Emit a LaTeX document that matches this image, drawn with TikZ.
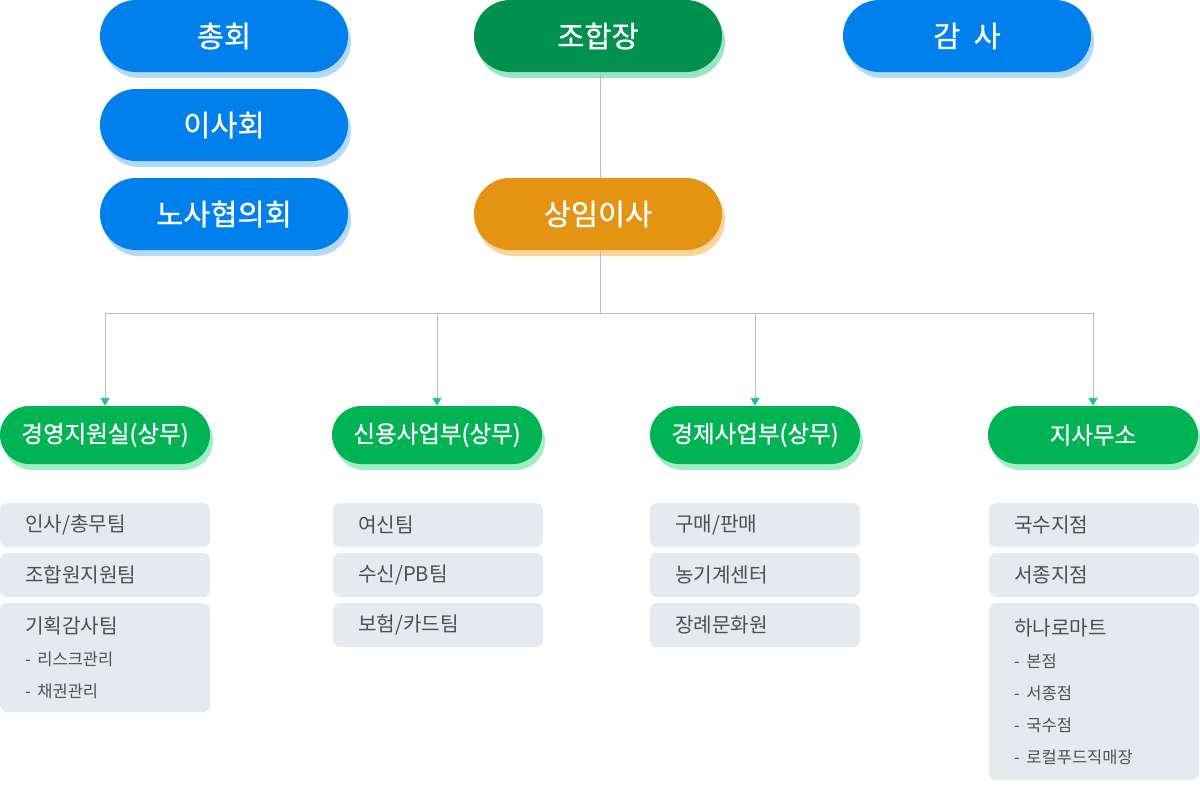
\documentclass[tikz,border=0pt]{standalone}
\usepackage{fontspec}
\setmainfont{Noto Sans CJK KR}
\newfontfamily\pillfont[FakeBold=0.8]{Noto Sans CJK KR}
\usetikzlibrary{arrows.meta,shadows}

\definecolor{boardblue}{HTML}{0080ED}
\definecolor{boardblueshadow}{HTML}{B3DAFB}
\definecolor{chiefgreen}{HTML}{00914F}
\definecolor{chiefgreenshadow}{HTML}{96E6BF}
\definecolor{execorange}{HTML}{E59312}
\definecolor{execorangeshadow}{HTML}{FBD59C}
\definecolor{deptgreen}{HTML}{00B355}
\definecolor{deptgreenshadow}{HTML}{A2EEC3}
\definecolor{teamgrey}{HTML}{E6EAEE}
\definecolor{teamtext}{HTML}{4F4F4F}
\definecolor{linkgrey}{HTML}{BBBBBB}
\definecolor{tipteal}{HTML}{1CC0A0}

\tikzset{
  bigpill/.style={rectangle, rounded corners=36pt, minimum width=248pt,
    minimum height=72pt, inner sep=0pt, text=white,
    font=\pillfont\fontsize{29.5}{30}\selectfont},
  boardpill/.style={bigpill, fill=boardblue,
    drop shadow={shadow xshift=3pt, shadow yshift=-6pt, fill=boardblueshadow, opacity=1}},
  chiefpill/.style={bigpill, fill=chiefgreen,
    drop shadow={shadow xshift=3pt, shadow yshift=-6pt, fill=chiefgreenshadow, opacity=1}},
  execpill/.style={bigpill, fill=execorange,
    drop shadow={shadow xshift=3pt, shadow yshift=-6pt, fill=execorangeshadow, opacity=1}},
  deptpill/.style={rectangle, rounded corners=29pt, minimum width=210pt,
    minimum height=58pt, inner sep=0pt, text=white, fill=deptgreen,
    font=\pillfont\fontsize{23.5}{24}\selectfont,
    drop shadow={shadow xshift=3pt, shadow yshift=-6pt, fill=deptgreenshadow, opacity=1}},
  teambox/.style={rectangle, rounded corners=7pt, fill=teamgrey,
    minimum height=44pt, text width=160pt, inner xsep=25pt, inner ysep=0pt,
    align=left, text=teamtext, font=\fontsize{20.2}{32}\selectfont},
  link/.style={draw=linkgrey, line width=0.9pt},
  linkarrow/.style={link, -{Triangle[width=9pt, length=8pt, color=tipteal]}}
}

\newcommand{\teamsub}[1]{{\fontsize{16.5}{32}\selectfont #1}}

\begin{document}
\begin{tikzpicture}[x=1pt, y=-1pt]
  \def\Xl{224};   % left column
  \def\Xc{598};   % centre column
  \def\Yd{435};   % departments
  \def\Ybus{313}; % branch line
  \useasboundingbox (0,0) rectangle (1200,785);

  % board
  \node[boardpill] (assembly) at (\Xl, 36) {총회};
  \node[boardpill] (board) at (\Xl, 125) {이사회};
  \node[boardpill] (labour) at (\Xl, 214) {노사협의회};
  \node[boardpill] (audit) at (967, 36) {감\ \ 사};

  % head
  \coordinate (spine) at (600, 0);
  \node[chiefpill] (chief) at (\Xc, 36) {조합장};
  \node[execpill] (exec) at (\Xc, 214) {상임이사};
  \draw[link] (chief.south -| spine) -- (exec.north -| spine);

  % departments
  \node[deptpill] (mgmt) at (105, \Yd) {경영지원실(상무)};
  \node[deptpill] (credit) at (437, \Yd) {신용사업부(상무)};
  \node[deptpill] (econ) at (755, \Yd) {경제사업부(상무)};
  \node[deptpill] (branch) at (1093, \Yd) {지사무소};

  % branch line
  \coordinate (bus) at (600, \Ybus);
  \draw[link] (exec.south -| bus) -- (bus);
  \draw[linkarrow] (bus) -| (mgmt.north);
  \draw[linkarrow] (bus) -| (credit.north);
  \draw[linkarrow] (bus) -| (econ.north);
  \draw[linkarrow] (bus) -| (branch.north);

  % teams
  \node[teambox] (mgmt1) at (105, 525) {인사/총무팀};
  \node[teambox] (mgmt2) at (105, 575) {조합원지원팀};
  \node[teambox, anchor=north, minimum height=109pt] (mgmt3) at (105, 603)
    {기획감사팀\\\teamsub{- 리스크관리}\\\teamsub{- 채권관리}};

  \node[teambox] (credit1) at (438, 525) {여신팀};
  \node[teambox] (credit2) at (438, 575) {수신/PB팀};
  \node[teambox] (credit3) at (438, 625) {보험/카드팀};

  \node[teambox] (econ1) at (755, 525) {구매/판매};
  \node[teambox] (econ2) at (755, 575) {농기계센터};
  \node[teambox] (econ3) at (755, 625) {장례문화원};

  \node[teambox] (branch1) at (1094, 525) {국수지점};
  \node[teambox] (branch2) at (1094, 575) {서종지점};
  \node[teambox, anchor=north, minimum height=177pt] (branch3) at (1094, 603)
    {하나로마트\\\teamsub{- 본점}\\\teamsub{- 서종점}\\\teamsub{- 국수점}\\\teamsub{- 로컬푸드직매장}};
\end{tikzpicture}
\end{document}
